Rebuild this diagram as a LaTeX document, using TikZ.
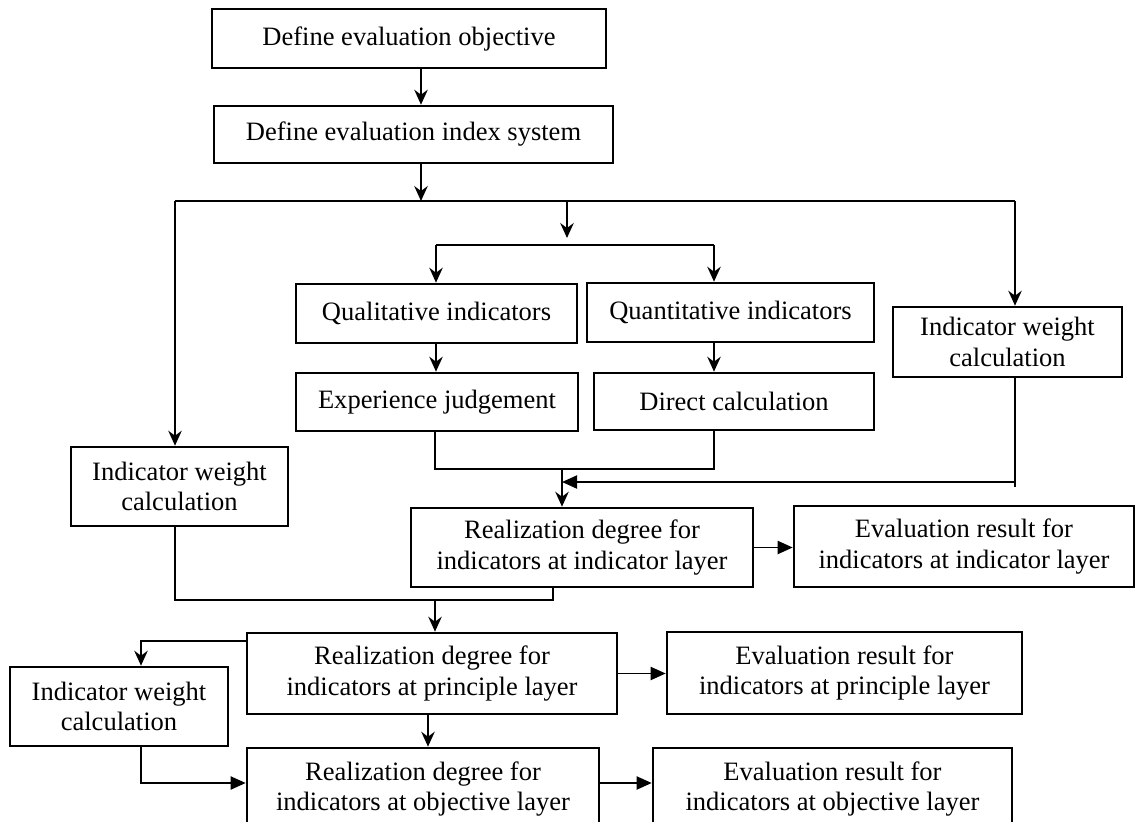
\documentclass[tikz,border=0pt]{standalone}
\usepackage{fontspec}
\setmainfont{Liberation Serif}
\usetikzlibrary{arrows.meta}

\begin{document}
\begin{tikzpicture}[x=0.02cm,y=-0.02cm,
box/.style={draw,line width=1.5pt,align=center,inner sep=0pt,font=\fontsize{15.1}{17.4}\selectfont},
ln/.style={line width=1.1pt},
arr/.style={ln,-{Stealth[length=0.3cm,width=0.27cm,inset=0.1cm]}},
tri/.style={ln,-{Triangle[length=0.3cm,width=0.26cm]}}]
\clip (0,0) rectangle (1137,822);
\node[box,minimum width=7.88cm,minimum height=1.18cm] (obj) at (409,38.5) {Define evaluation objective};
\node[box,minimum width=7.98cm,minimum height=1.14cm] (sys) at (413.5,134.5) {Define evaluation index system};
\node[box,minimum width=5.62cm,minimum height=1.18cm] (qual) at (436.5,313.5) {Qualitative indicators};
\node[box,minimum width=5.74cm,minimum height=1.18cm] (quant) at (730.5,312.5) {Quantitative indicators};
\node[box,minimum width=5.64cm,minimum height=1.16cm] (exp) at (437,402) {Experience judgement};
\node[box,minimum width=5.60cm,minimum height=1.14cm] (dir) at (734,401.5) {Direct calculation};
\node[box,minimum width=4.58cm,minimum height=1.40cm] (wR) at (1007.5,342) {Indicator weight\\calculation};
\node[box,minimum width=4.34cm,minimum height=1.58cm] (wM) at (179.5,486.5) {Indicator weight\\calculation};
\node[box,minimum width=6.84cm,minimum height=1.58cm] (realI) at (582,547.5) {Realization degree for\\indicators at indicator layer};
\node[box,minimum width=6.80cm,minimum height=1.62cm] (evalI) at (964,546.5) {Evaluation result for\\indicators at indicator layer};
\node[box,minimum width=7.40cm,minimum height=1.62cm] (realP) at (432,673.5) {Realization degree for\\indicators at principle layer};
\node[box,minimum width=7.10cm,minimum height=1.64cm] (evalP) at (844.5,673) {Evaluation result for\\indicators at principle layer};
\node[box,minimum width=4.36cm,minimum height=1.58cm] (wL) at (119,706.5) {Indicator weight\\calculation};
\node[box,minimum width=7.04cm,minimum height=1.64cm] (realO) at (423,789) {Realization degree for\\indicators at objective layer};
\node[box,minimum width=7.18cm,minimum height=1.64cm] (evalO) at (832.5,789) {Evaluation result for\\indicators at objective layer};
\coordinate (s1) at (421,201); \coordinate (L) at (175,201); \coordinate (R) at (1015,201);
\coordinate (m1) at (567,201); \coordinate (m2) at (567,238);
\coordinate (q1) at (436,245); \coordinate (q2) at (714,245);
\coordinate (j1) at (435,469); \coordinate (j2) at (714,469); \coordinate (j3) at (562,469);
\coordinate (r1) at (1015,482); \coordinate (r2) at (1015,487); \coordinate (r3) at (562,482);
\coordinate (k1) at (175,600); \coordinate (k2) at (553,600); \coordinate (k3) at (435,600);
\coordinate (p1) at (141,641); \coordinate (c1) at (428,714); \coordinate (o1) at (141,783);
\draw[arr] (obj.south -| s1) -- (sys.north -| s1);
\draw[arr] (sys.south -| s1) -- (s1);
\draw[ln] (L) -- (R);
\draw[arr] (m1) -- (m2);
\draw[ln] (q1) -- (q2);
\draw[arr] (q1) -- (qual.north -| q1);
\draw[arr] (q2) -- (quant.north -| q2);
\draw[arr] (qual.south -| q1) -- (exp.north -| q1);
\draw[arr] (quant.south -| q2) -- (dir.north -| q2);
\draw[arr] (L) -- (wM.north -| L);
\draw[arr] (R) -- (wR.north -| R);
\draw[ln] (exp.south -| j1) -- (j1) -- (j2) -- (dir.south -| j2);
\draw[arr] (j3) -- (realI.north -| j3);
\draw[ln] (wR.south -| R) -- (r2);
\draw[tri] (r1) -- (r3);
\draw[tri] (realI.east) -- (evalI.west |- realI.east);
\draw[ln] (wM.south -| k1) -- (k1) -- (k2) -- (realI.south -| k2);
\draw[arr] (k3) -- (realP.north -| k3);
\draw[arr] (realP.west |- p1) -- (p1) -- (wL.north -| p1);
\draw[tri] (realP.east) -- (evalP.west |- realP.east);
\draw[arr] (realP.south -| c1) -- (realO.north -| c1);
\draw[tri] (wL.south -| o1) -- (o1) -- (realO.west |- o1);
\draw[tri] (realO.east |- o1) -- (evalO.west |- o1);
\end{tikzpicture}
\end{document}
